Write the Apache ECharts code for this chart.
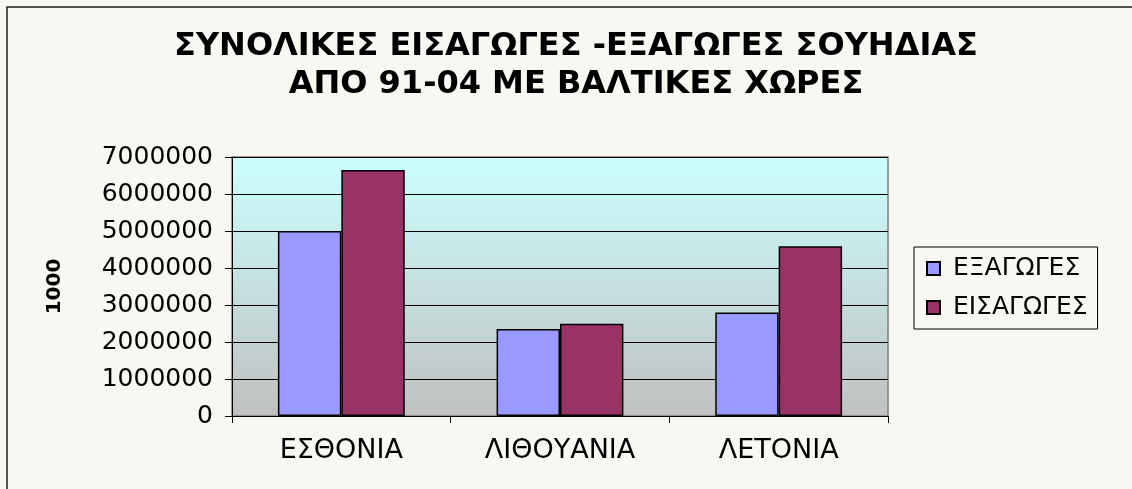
<!DOCTYPE html>
<html>
<head>
<meta charset="utf-8">
<script src="https://cdn.jsdelivr.net/npm/echarts@6/dist/echarts.min.js"></script>
<style>
	html, body { margin: 0; padding: 0; background: #f8f7f2; }
	#main { width: 1132px; height: 489px; }
</style>
</head>
<body>
<div id="main"></div>
<script>
/*数据*/
var countries = ['ΕΣΘΟΝΙΑ', 'ΛΙΘΟΥΑΝΙΑ', 'ΛΕΤΟΝΙΑ'];
var exportsData = [5000000, 2350000, 2800000];
var importsData = [6650000, 2490000, 4590000];
var yTicks = [0, 1000000, 2000000, 3000000, 4000000, 5000000, 6000000, 7000000];

var font = 'DejaVu Sans, Liberation Sans, sans-serif';

var chart = echarts.init(document.getElementById('main'));
var option = {
	backgroundColor: '#f8f7f2',
	animation: false,
	title: {
		text: 'ΣΥΝΟΛΙΚΕΣ ΕΙΣΑΓΩΓΕΣ -ΕΞΑΓΩΓΕΣ ΣΟΥΗΔΙΑΣ\nΑΠΟ 91-04 ΜΕ ΒΑΛΤΙΚΕΣ ΧΩΡΕΣ',
		left: 571,
		top: 23,
		textAlign: 'center',
		textStyle: {
			fontFamily: font,
			fontWeight: 'bold',
			fontSize: 32,
			lineHeight: 38,
			color: '#000'
		}
	},
	legend: {
		orient: 'vertical',
		left: 914,
		top: 247,
		padding: [9, 10, 9, 12],
		itemWidth: 13,
		itemHeight: 13,
		itemGap: 14,
		borderColor: '#000',
		borderWidth: 1,
		icon: 'rect',
		formatter: ' {name}',
		textStyle: { fontFamily: font, fontSize: 25, color: '#000' },
		data: ['ΕΞΑΓΩΓΕΣ', 'ΕΙΣΑΓΩΓΕΣ']
	},
	grid: {
		left: 232,
		right: 244,
		top: 157,
		bottom: 73,
		show: true,
		borderColor: '#808080',
		borderWidth: 1.5,
		backgroundColor: {
			type: 'linear', x: 0, y: 0, x2: 0, y2: 1,
			colorStops: [
				{ offset: 0, color: '#ccffff' },
				{ offset: 1, color: '#c0c0c0' }
			]
		}
	},
	xAxis: {
		type: 'category',
		data: countries,
		axisLine: { lineStyle: { color: '#000', width: 1 } },
		axisTick: { show: true, length: 7, lineStyle: { color: '#000' } },
		axisLabel: { fontFamily: font, fontSize: 27, color: '#000', margin: 21 }
	},
	yAxis: {
		type: 'value',
		min: yTicks[0],
		max: yTicks[yTicks.length - 1],
		interval: 1000000,
		name: '1000',
		nameLocation: 'middle',
		nameGap: 167,
		nameRotate: 90,
		nameTextStyle: { fontFamily: font, fontSize: 20, fontWeight: 'bold', color: '#000' },
		axisLine: { show: true, lineStyle: { color: '#000', width: 1 } },
		axisTick: { show: true, length: 7, lineStyle: { color: '#000' } },
		axisLabel: {
			fontFamily: font, fontSize: 25, color: '#000', margin: 19,
			formatter: function(v) { return String(v); }
		},
		splitLine: { lineStyle: { color: '#000', width: 1 } }
	},
	series: [{
		name: 'ΕΞΑΓΩΓΕΣ',
		type: 'bar',
		data: exportsData,
		barGap: '0%',
		barCategoryGap: '42%',
		itemStyle: { color: '#9999ff', borderColor: '#000', borderWidth: 1.5 }
	}, {
		name: 'ΕΙΣΑΓΩΓΕΣ',
		type: 'bar',
		data: importsData,
		barGap: '0%',
		barCategoryGap: '42%',
		itemStyle: { color: '#993366', borderColor: '#000', borderWidth: 1.5 }
	}],
	graphic: [{
		type: 'polyline',
		shape: { points: [[7, 489], [7, 7], [1132, 7]] },
		style: { stroke: '#222', lineWidth: 1.5, fill: null },
		silent: true
	}]
};
chart.setOption(option);
</script>
</body>
</html>
